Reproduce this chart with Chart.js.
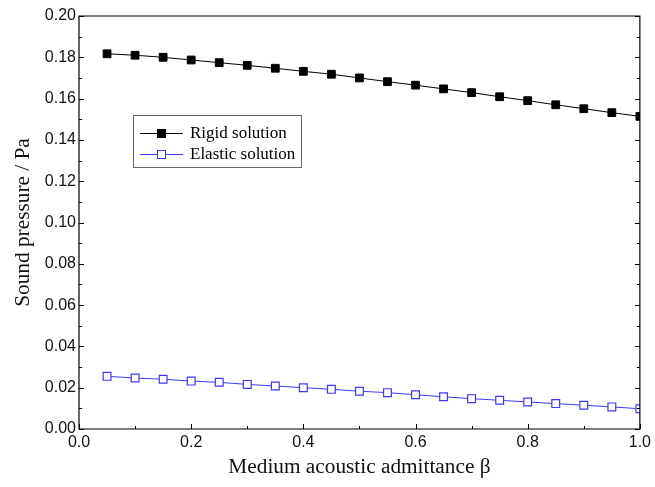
<!DOCTYPE html>
<html>
<head>
<meta charset="utf-8">
<script src="https://cdn.jsdelivr.net/npm/chart.js@4.4.1/dist/chart.umd.min.js"></script>
<style>
    html, body { margin: 0; padding: 0; background: #ffffff; }
    #wrap { width: 655px; height: 487px; }
</style>
</head>
<body>
<div id="wrap"><canvas id="chart" width="655" height="487"></canvas></div>
<script>
const admittance = [0.05, 0.10, 0.15, 0.20, 0.25, 0.30, 0.35, 0.40, 0.45, 0.50,
    0.55, 0.60, 0.65, 0.70, 0.75, 0.80, 0.85, 0.90, 0.95, 1.00];
const rigidSolution = [0.1817, 0.1810, 0.1800, 0.1787, 0.1774, 0.1761, 0.1747, 0.1732, 0.1718, 0.1700,
    0.1682, 0.1665, 0.1647, 0.1629, 0.1609, 0.1590, 0.1570, 0.1551, 0.1532, 0.1514];
const elasticSolution = [0.0255, 0.0247, 0.0241, 0.0232, 0.0226, 0.0216, 0.0208, 0.0200, 0.0192, 0.0183,
    0.0176, 0.0166, 0.0156, 0.0147, 0.0139, 0.0131, 0.0123, 0.0115, 0.0107, 0.0098];
const seriesNames = ["Rigid solution", "Elastic solution"];
const xTitle = "Medium acoustic admittance \u03b2";
const yTitle = "Sound pressure / Pa";

const blue = "#3a3aff";
const serif = "'Liberation Serif', 'Times New Roman', serif";
const sans = "'Liberation Sans', Arial, sans-serif";

function toPoints(values) {
    return admittance.map((x, i) => ({ x: x, y: values[i] }));
}

// frame, inward ticks (major + minor) and the boxed legend
const framePlugin = {
    id: "frame",
    afterDraw(chart) {
        const ctx = chart.ctx;
        const area = chart.chartArea;
        const xs = chart.scales.x;
        const ys = chart.scales.y;
        ctx.save();
        ctx.strokeStyle = "#000";
        ctx.lineWidth = 1.2;
        ctx.beginPath();
        ctx.rect(area.left, area.top, area.right - area.left, area.bottom - area.top);
        ctx.stroke();

        ctx.lineWidth = 1;
        ctx.beginPath();
        for (let v = 0; v <= 1.0001; v += 0.1) {
            const px = Math.round(xs.getPixelForValue(v)) + 0.5;
            const major = Math.round(v * 10) % 2 === 0;
            const len = major ? 5 : 3;
            ctx.moveTo(px, area.bottom);
            ctx.lineTo(px, area.bottom - len);
        }
        for (let v = 0; v <= 0.2001; v += 0.01) {
            const py = Math.round(ys.getPixelForValue(v)) + 0.5;
            const major = Math.round(v * 100) % 2 === 0;
            const len = major ? 5 : 3;
            ctx.moveTo(area.left, py);
            ctx.lineTo(area.left + len, py);
            ctx.moveTo(area.right, py);
            ctx.lineTo(area.right - len, py);
        }
        ctx.stroke();

        // legend box
        const lx = area.left + 54;
        const ly = area.top + 99;
        ctx.strokeStyle = "#666";
        ctx.lineWidth = 1;
        ctx.strokeRect(lx + 0.5, ly + 0.5, 168, 52);
        ctx.font = "17px " + serif;
        ctx.textBaseline = "middle";
        chart.data.datasets.forEach((ds, i) => {
            const rowY = ly + 18 + i * 21;
            ctx.strokeStyle = ds.borderColor;
            ctx.lineWidth = 1;
            ctx.beginPath();
            ctx.moveTo(lx + 7, rowY + 0.5);
            ctx.lineTo(lx + 50, rowY + 0.5);
            ctx.stroke();
            ctx.fillStyle = ds.pointBackgroundColor;
            ctx.fillRect(lx + 24, rowY - 4, 9, 9);
            ctx.strokeStyle = ds.pointBorderColor;
            ctx.strokeRect(lx + 24.5, rowY - 3.5, 8, 8);
            ctx.fillStyle = "#000";
            ctx.textAlign = "left";
            ctx.fillText(ds.label, lx + 57, rowY + 1);
        });
        ctx.restore();
    }
};

new Chart(document.getElementById("chart").getContext("2d"), {
    type: "line",
    data: {
        datasets: [{
            label: seriesNames[0],
            data: toPoints(rigidSolution),
            borderColor: "#000",
            borderWidth: 1,
            pointStyle: "rect",
            pointRadius: 5.5,
            pointBackgroundColor: "#000",
            pointBorderColor: "#000",
            pointBorderWidth: 1,
            tension: 0
        }, {
            label: seriesNames[1],
            data: toPoints(elasticSolution),
            borderColor: blue,
            borderWidth: 1,
            pointStyle: "rect",
            pointRadius: 5.5,
            pointBackgroundColor: "#fff",
            pointBorderColor: blue,
            pointBorderWidth: 1.2,
            tension: 0
        }]
    },
    options: {
        responsive: false,
        animation: false,
        events: [],
        layout: { padding: { left: 0, top: 16, right: 14, bottom: 0 } },
        plugins: {
            legend: { display: false },
            tooltip: { enabled: false }
        },
        scales: {
            x: {
                type: "linear",
                min: 0,
                max: 1.0,
                afterFit(scale) { scale.height = 58; },
                grid: { display: false, drawTicks: false },
                border: { display: false },
                ticks: {
                    stepSize: 0.2,
                    padding: 4,
                    color: "#111",
                    font: { family: sans, size: 16 },
                    callback: (v) => Number(v).toFixed(1)
                },
                title: {
                    display: true,
                    text: xTitle,
                    color: "#111",
                    font: { family: serif, size: 21.3 },
                    padding: { top: 0, bottom: 7 }
                }
            },
            y: {
                type: "linear",
                min: 0,
                max: 0.2,
                afterFit(scale) { scale.width = 79; },
                grid: { display: false, drawTicks: false },
                border: { display: false },
                ticks: {
                    stepSize: 0.02,
                    padding: 3,
                    color: "#111",
                    font: { family: sans, size: 16 },
                    callback: (v) => Number(v).toFixed(2)
                },
                title: {
                    display: true,
                    text: yTitle,
                    color: "#111",
                    font: { family: serif, size: 21.3 },
                    padding: { top: 11, bottom: 0 }
                }
            }
        }
    },
    plugins: [framePlugin]
});
</script>
</body>
</html>
